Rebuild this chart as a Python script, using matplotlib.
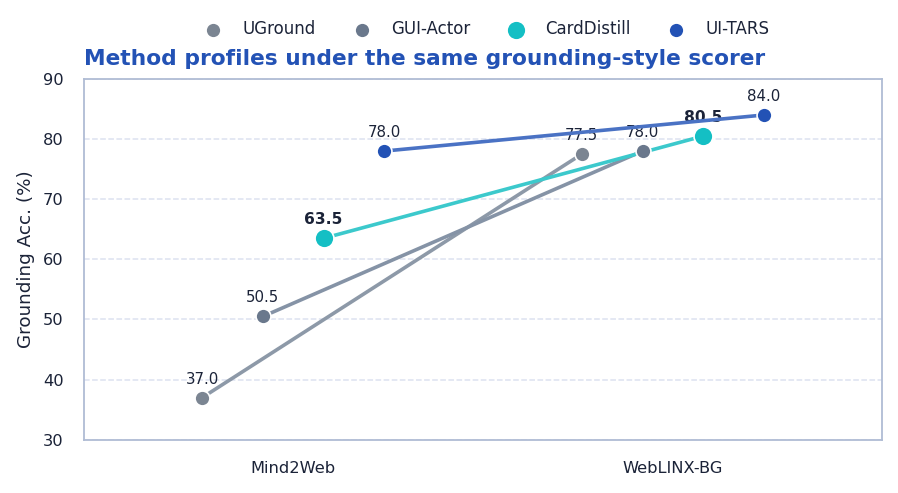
import matplotlib
matplotlib.use("Agg")
import matplotlib.pyplot as plt

plt.rcParams["font.family"] = ["DejaVu Sans"]

benchmarks = ["Mind2Web", "WebLINX-BG"]
methods = ["UGround", "GUI-Actor", "CardDistill", "UI-TARS"]
scores = {
    "UGround": [37.0, 77.5],
    "GUI-Actor": [50.5, 78.0],
    "CardDistill": [63.5, 80.5],
    "UI-TARS": [78.0, 84.0],
}
offsets = [-0.24, -0.08, 0.08, 0.24]
colors = ["#7b8592", "#6a788c", "#14bfc4", "#2352b5"]
line_colors = ["#8d99a8", "#8593a6", "#3cc9cc", "#4a72c4"]
highlight = "CardDistill"

fig, ax = plt.subplots(figsize=(8.98, 4.93), dpi=100)
fig.subplots_adjust(left=0.094, right=0.982, top=0.84, bottom=0.108)

for i, m in enumerate(methods):
    xs = [j + offsets[i] for j in range(len(benchmarks))]
    ys = scores[m]
    big = m == highlight
    ax.plot(xs, ys, color=line_colors[i], lw=2.6, zorder=3)
    ax.scatter(xs, ys, s=185 if big else 115, color=colors[i],
               edgecolor="white", linewidth=1.2, zorder=4, label=m)
    for x, y in zip(xs, ys):
        ax.annotate(f"{y:.1f}", (x, y), xytext=(0, 8), textcoords="offset points",
                    ha="center", va="bottom", color="#1b2338",
                    fontsize=11.2 if big else 10.8,
                    fontweight="bold" if big else "normal", zorder=2)

ax.set_xlim(-0.55, 1.55)
ax.set_ylim(30, 90)
ax.set_xticks(range(len(benchmarks)))
ax.set_xticklabels(benchmarks)
ax.set_yticks(range(30, 91, 10))
ax.tick_params(length=0, labelsize=11.7, labelcolor="#1b2338")
ax.tick_params(axis="x", pad=15)
ax.tick_params(axis="y", pad=15)
ax.set_ylabel("Grounding Acc. (%)", fontsize=13.2, color="#1b2338", labelpad=5.5)
ax.grid(axis="y", linestyle="--", color="#dde2f0", lw=1.1, zorder=0)
for s in ax.spines.values():
    s.set_color("#b0bcd4")
    s.set_linewidth(1.3)

ax.set_title("Method profiles under the same grounding-style scorer", loc="left",
             fontsize=15.7, fontweight="bold", color="#2352b5", pad=10, x=0.0)
ax.legend(loc="upper center", bbox_to_anchor=(0.5, 0.989), ncol=4, frameon=False,
          bbox_transform=fig.transFigure,
          fontsize=12, handlelength=2.0, handletextpad=0.75, columnspacing=1.75,
          labelcolor="#1b2338", scatterpoints=1)
# centre legend over the axes, not the figure
leg = ax.get_legend()
axc = (ax.get_position().x0 + ax.get_position().x1) / 2
leg.set_bbox_to_anchor((axc, 0.989), transform=fig.transFigure)

fig.savefig("out.png", dpi=100)
